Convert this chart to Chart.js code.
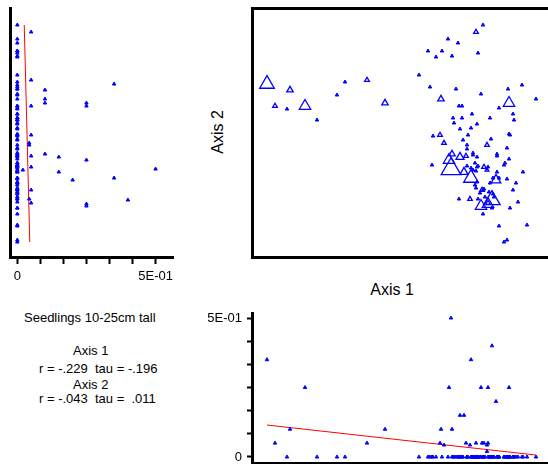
<!DOCTYPE html>
<html>
<head>
<meta charset="utf-8">
<script src="https://cdn.jsdelivr.net/npm/chart.js@4.4.1/dist/chart.umd.min.js"></script>
<style>
  body { margin: 0; width: 548px; height: 464px; overflow: hidden; background: #fff; position: relative;
         font-family: "Liberation Sans", Arial, sans-serif; color: #000; }
  canvas { position: absolute; }
  .txt { position: absolute; white-space: pre; font-size: 13px; line-height: 16px; }
  .eixo { position: absolute; white-space: pre; font-size: 16px; line-height: 18px; }
</style>
</head>
<body>
<canvas id="lateral" width="185" height="292" style="left:0px;top:0px"></canvas>
<canvas id="principal" width="312" height="261" style="left:245px;top:1px"></canvas>
<canvas id="inferior" width="360" height="170" style="left:200px;top:300px"></canvas>

<div class="eixo" style="left:218px;top:132px;transform:translate(-50%,-50%) rotate(-90deg)">Axis 2</div>
<div class="eixo" style="left:392px;top:290px;transform:translate(-50%,-50%)">Axis 1</div>

<div class="txt" style="left:24px;top:310px">Seedlings 10-25cm tall</div>
<div class="txt" style="left:73px;top:343px">Axis 1</div>
<div class="txt" style="left:39px;top:361px">r = -.229  tau = -.196</div>
<div class="txt" style="left:73px;top:377px">Axis 2</div>
<div class="txt" style="left:39px;top:391px">r = -.043  tau =  .011</div>

<script>
// escores das parcelas na ordenação (eixo 1 e eixo 2) e cobertura de plântulas
const eixo1 = [
  231, 196, 206, 176, 190, 184, 200, 226, 167, 93,
  85, 35, 65, 178, 204, 229, 256, 270, 284, 207,
  210, 247, 261, 201, 210, 220, 238, 262, 202, 225,
  208, 219, 216, 181, 257, 258, 239, 211, 215, 215,
  255, 221, 221, 245, 245, 225, 257, 180, 253, 252,
  223, 215, 219, 221, 225, 226, 224, 236, 271, 245,
  241, 247, 255, 225, 223, 224, 238, 264, 231, 232,
  228, 237, 261, 233, 207, 226, 241, 242, 266, 240,
  258, 231, 247, 275, 252, 255,
  15, 38, 23, 53, 115, 133, 224, 189, 257, 188,
  192, 235, 200, 208, 214, 197, 199, 212, 232, 219,
  244, 218, 229, 240, 236, 235, 230, 236
];
const eixo2 = [
  232, 218, 214, 206, 206, 200, 201, 204, 182, 175,
  162, 148, 137, 170, 168, 163, 168, 172, 158, 151,
  151, 149, 143, 139, 139, 143, 139, 137, 134, 133,
  128, 129, 122, 121, 123, 122, 118, 117, 112, 108,
  109, 104, 102, 103, 101, 100, 98, 92, 94, 92,
  94, 91, 89, 87, 90, 91, 86, 90, 85, 85,
  79, 79, 78, 75, 72, 69, 74, 74, 67, 68,
  64, 65, 67, 60, 58, 58, 63, 60, 55, 49,
  49, 43, 31, 32, 15, 17,
  173, 167, 151, 151, 177, 154, 225, 158, 154, 122,
  114, 112, 103, 100, 101, 97, 88, 85, 90, 79,
  77, 58, 51, 57, 53, 87, 67, 54
];
const cobertura = [
  0, 0, 0, 0, 0, 0, 0, 0, 0, 0,
  0, 0, 0, 0, 0, 0, 0, 0, 0, 0,
  0, 0, 0, 0, 0, 0, 0, 0, 0, 0,
  0, 0, 0, 0, 0, 0, 0, 0, 0, 0,
  0, 0, 0, 0, 0, 0, 0, 0, 0, 0,
  0, 0, 0, 0, 0, 0, 0, 0, 0, 0,
  0, 0, 0, 0, 0, 0, 0, 0, 0, 0,
  0, 0, 0, 0, 0, 0, 0, 0, 0, 0,
  0, 0, 0, 0, 0, 0,
  0.35, 0.1, 0.05, 0.25, 0.05, 0.1, 0.05, 0.1, 0.25, 0.05,
  0.043, 0.043, 0.1, 0.15, 0.05, 0.25, 0.5, 0.15, 0.05, 0.35,
  0.2, 0.043, 0.25, 0.4, 0.25, 0.02, 0.05, 0.05
];

// marcas do eixo de cobertura (0 a 5E-01)
const ticksCobertura = [0, 0.0833, 0.1667, 0.25, 0.3333, 0.4167, 0.5];
const rotulosCobertura = ["0", "", "", "", "", "", "5E-01"];

// retas de regressão (cobertura nos extremos de cada eixo)
const ajusteEixo1 = [0.115, 0.007];
const ajusteEixo2 = [0.025, 0.045];

const AZUL = "#0000ff";
const VERMELHO = "#ff0000";

Chart.defaults.font.family = "'Liberation Sans', Arial, sans-serif";
Chart.defaults.color = "#000";

const semInteracao = {
  responsive: false,
  animation: false,
  events: [],
  plugins: { legend: { display: false }, tooltip: { enabled: false } },
};

function pontosPequenos(dados) {
  return {
    data: dados,
    pointStyle: "triangle",
    pointRadius: 2,
    pointBackgroundColor: AZUL,
    pointBorderColor: AZUL,
    pointBorderWidth: 1,
    clip: false,
  };
}

function reta(dados) {
  return {
    data: dados,
    showLine: true,
    borderColor: VERMELHO,
    borderWidth: 1,
    pointRadius: 0,
    clip: false,
  };
}

// fixa o tamanho do eixo e zera a folga que o Chart.js reserva para os rótulos
function tamanhoFixo(px) {
  return (s) => {
    if (s.isHorizontal()) s.height = px; else s.width = px;
    s.paddingTop = 0; s.paddingBottom = 0; s.paddingLeft = 0; s.paddingRight = 0;
  };
}

const min1 = Math.min(...eixo1), max1 = Math.max(...eixo1);
const min2 = Math.min(...eixo2), max2 = Math.max(...eixo2);

// gráfico lateral: cobertura x eixo 2
new Chart(document.getElementById("lateral"), {
  type: "scatter",
  data: {
    datasets: [
      pontosPequenos(cobertura.map((c, i) => ({ x: c, y: eixo2[i] }))),
      reta([{ x: ajusteEixo2[0], y: max2 }, { x: ajusteEixo2[1], y: min2 }]),
    ],
  },
  options: {
    ...semInteracao,
    layout: { autoPadding: false, padding: { top: 8, right: 12, left: 0, bottom: 0 } },
    scales: {
      x: {
        min: -0.0265,
        max: 0.563,
        afterBuildTicks: (s) => { s.ticks = ticksCobertura.map((v) => ({ value: v })); },
        afterFit: tamanhoFixo(35),
        border: { color: "#000", width: 3 },
        grid: { drawOnChartArea: false, tickLength: 7, tickWidth: 2, tickColor: "#000" },
        ticks: { autoSkip: false, maxRotation: 0, padding: 5, font: { size: 13 },
                 callback: (v, i) => rotulosCobertura[i] },
      },
      y: {
        min: 0,
        max: 249,
        afterFit: tamanhoFixo(10),
        border: { color: "#000", width: 3 },
        grid: { drawOnChartArea: false, drawTicks: false },
        ticks: { display: false },
      },
    },
  },
});

// gráfico principal: ordenação (eixo 1 x eixo 2), triângulos proporcionais à cobertura
const moldura = {
  border: { color: "#000", width: 3 },
  grid: { drawOnChartArea: false, drawTicks: false },
  ticks: { display: false },
  afterFit: tamanhoFixo(0),
};

new Chart(document.getElementById("principal"), {
  type: "scatter",
  data: {
    datasets: [{
      data: eixo1.map((v, i) => ({ x: v, y: eixo2[i] })),
      pointStyle: "triangle",
      pointRadius: cobertura.map((c) => (c > 0 ? 1.8 + 19 * c : 2)),
      pointBackgroundColor: cobertura.map((c) => (c > 0 ? "rgba(0,0,0,0)" : AZUL)),
      pointBorderColor: AZUL,
      pointBorderWidth: cobertura.map((c) => (c > 0 ? 1.3 : 1)),
      clip: false,
    }],
  },
  options: {
    ...semInteracao,
    layout: { autoPadding: false, padding: { left: 7, top: 7, right: 5, bottom: 5 } },
    scales: {
      x: { min: 0, max: 300, position: "bottom", ...moldura },
      xTopo: { axis: "x", min: 0, max: 300, position: "top", ...moldura },
      y: { min: 0, max: 249, position: "left", ...moldura },
      yDireita: { axis: "y", min: 0, max: 249, position: "right", ...moldura },
    },
  },
});

// gráfico inferior: eixo 1 x cobertura
new Chart(document.getElementById("inferior"), {
  type: "scatter",
  data: {
    datasets: [
      pontosPequenos(eixo1.map((v, i) => ({ x: v, y: cobertura[i] }))),
      reta([{ x: min1, y: ajusteEixo1[0] }, { x: max1, y: ajusteEixo1[1] }]),
    ],
  },
  options: {
    ...semInteracao,
    layout: { autoPadding: false, padding: { top: 13, right: 8, left: 0, bottom: 0 } },
    scales: {
      x: {
        min: 0,
        max: 300,
        afterFit: tamanhoFixo(7),
        border: { color: "#000", width: 3 },
        grid: { drawOnChartArea: false, drawTicks: false },
        ticks: { display: false },
      },
      y: {
        min: -0.0216,
        max: 0.518,
        afterBuildTicks: (s) => { s.ticks = ticksCobertura.map((v) => ({ value: v })); },
        afterFit: tamanhoFixo(52),
        border: { color: "#000", width: 3 },
        grid: { drawOnChartArea: false, tickLength: 5, tickWidth: 2, tickColor: "#000" },
        ticks: { autoSkip: false, padding: 5, font: { size: 13 },
                 callback: (v, i) => rotulosCobertura[i] },
      },
    },
  },
});
</script>
</body>
</html>
